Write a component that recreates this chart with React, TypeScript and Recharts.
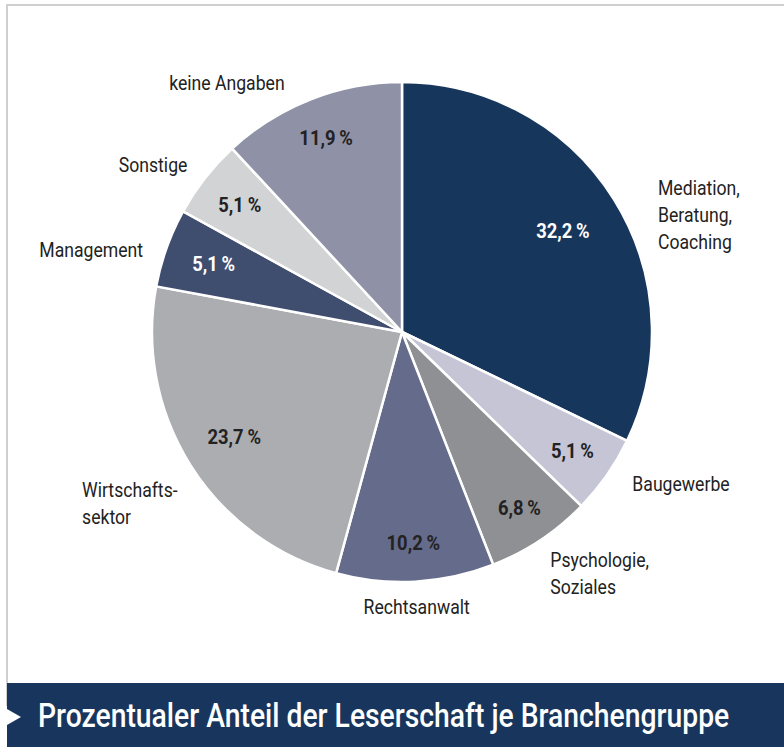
import React from "react";
import { PieChart, Pie, Cell } from "recharts";

const categories = [
  "Mediation,\nBeratung,\nCoaching",
  "Baugewerbe",
  "Psychologie,\nSoziales",
  "Rechtsanwalt",
  "Wirtschafts-\nsektor",
  "Management",
  "Sonstige",
  "keine Angaben",
];
const shares = [32.2, 5.1, 6.8, 10.2, 23.7, 5.1, 5.1, 11.9];
const title = "Prozentualer Anteil der Leserschaft je Branchengruppe";

const sliceColors = [
  "#17365c",
  "#c5c5d5",
  "#8f9094",
  "#656b8a",
  "#acadb1",
  "#3f4d6f",
  "#d2d3d5",
  "#8f91a7",
];
const valueInk = ["#fff", "#222", "#222", "#222", "#222", "#fff", "#222", "#222"];

// label layout tweaks (px): radius of the value labels, nudges of the name labels
const valueRadius = [190, 208, 212, 212, 198, 200, 206, 208];
const nameNudge = [
  [23, 29],
  [5, -6],
  [-4, 12],
  [0, 0],
  [-87, 25],
  [0, 10],
  [2, 2],
  [-17, 6],
];

const data = categories.map((name, i) => ({ name, value: shares[i] }));

const RAD = Math.PI / 180;
const FONT = "Roboto, 'Noto Sans', sans-serif";

const fmt = (v: number) => v.toFixed(1).replace(".", ",") + "\u2009%";

const renderLabel = (props: any) => {
  const { cx, cy, midAngle, outerRadius, index, value } = props;
  const a = -midAngle * RAD;
  const vr = valueRadius[index];
  const px = cx + vr * Math.cos(a);
  const py = cy + vr * Math.sin(a);
  const nr = outerRadius + 25;
  const nx = cx + nr * Math.cos(a) + nameNudge[index][0];
  const ny = cy + nr * Math.sin(a) + nameNudge[index][1];
  const h = Math.cos(a);
  const lines = categories[index].split("\n");
  // multi-line names are set flush left
  const anchor =
    lines.length > 1 ? "start" : Math.abs(h) < 0.15 ? "middle" : h > 0 ? "start" : "end";
  const lineH = 27;
  const y0 = ny - ((lines.length - 1) * lineH) / 2;
  return (
    <g>
      <text
        transform={`translate(${px},${py}) scale(0.92,1)`}
        textAnchor="middle"
        dominantBaseline="central"
        fontFamily={FONT}
        fontWeight={700}
        fontSize={20}
        fill={valueInk[index]}
      >
        {fmt(value)}
      </text>
      <text
        transform={`translate(${nx},${y0}) scale(0.84,1)`}
        textAnchor={anchor}
        dominantBaseline="central"
        fontFamily={FONT}
        fontSize={21}
        fill="#222"
      >
        {lines.map((l, i) => (
          <tspan key={i} x={0} y={i * lineH}>
            {l}
          </tspan>
        ))}
      </text>
    </g>
  );
};

export default function App() {
  return (
    <div
      style={{
        position: "absolute",
        left: 0,
        top: 0,
        width: 784,
        height: 747,
        overflow: "hidden",
        background: "#fff",
      }}
    >
      <svg width={784} height={747} style={{ position: "absolute", left: 0, top: 0 }}>
        <rect x={7} y={5} width={800} height={700} fill="none" stroke="#cfcfcf" strokeWidth={2} />
        <rect x={7} y={683} width={800} height={70} fill="#18365d" />
        <polygon points="7,709 21,717 7,725" fill="#fff" />
        <text
          transform="translate(38,727) scale(0.8,1)"
          x={0}
          y={0}
          fontFamily={FONT}
          fontWeight={500}
          fontSize={33}
          fill="#fff"
          textLength={864}
          lengthAdjust="spacingAndGlyphs"
        >
          {title}
        </text>
      </svg>
      <div style={{ position: "absolute", left: 0, top: 0 }}>
        <PieChart width={784} height={683} margin={{ top: 0, right: 0, bottom: 0, left: 0 }}>
          <Pie
            data={data}
            dataKey="value"
            nameKey="name"
            cx={402}
            cy={332}
            outerRadius={250}
            startAngle={90}
            endAngle={-270}
            stroke="#fff"
            strokeWidth={2.5}
            label={renderLabel}
            labelLine={false}
            isAnimationActive={false}
          >
            {data.map((d, i) => (
              <Cell key={d.name} fill={sliceColors[i]} />
            ))}
          </Pie>
        </PieChart>
      </div>
    </div>
  );
}
